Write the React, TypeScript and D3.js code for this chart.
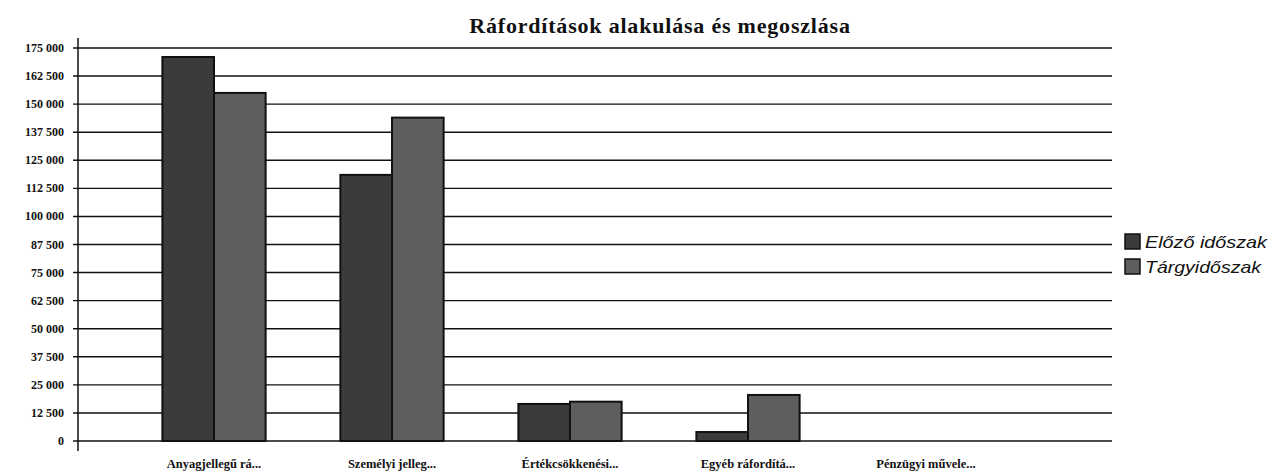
import * as d3 from "d3";
import React from "react";

const categories = [
  "Anyagjellegű rá...",
  "Személyi jelleg...",
  "Értékcsökkenési...",
  "Egyéb ráfordítá...",
  "Pénzügyi művele...",
];
const seriesNames = ["Előző időszak", "Tárgyidőszak"];
const elozo = [171000, 118500, 16500, 4000, 0];
const targy = [155000, 144000, 17500, 20500, 0];
const yTickValues = [0, 12500, 25000, 37500, 50000, 62500, 75000, 87500, 100000, 112500, 125000, 137500, 150000, 162500, 175000];

const colors = ["#3b3b3b", "#5e5e5e"];

export default function App() {
  const width = 1270;
  const height = 476;
  const plot = { left: 78, right: 1112, top: 48, bottom: 441 };

  const x = d3.scaleBand().domain(categories).range([125, 1015]).paddingInner(0.42).paddingOuter(0.21);
  const x1 = d3.scaleBand().domain(seriesNames).range([0, x.bandwidth()]);
  const y = d3.scaleLinear().domain([0, 175000]).range([plot.bottom, plot.top]);

  const fmt = (v: number) => d3.format(",")(v).replace(/,/g, " ");
  const values = [elozo, targy];

  return (
    <svg width={width} height={height} style={{ position: "absolute", left: 0, top: 0, background: "#fff" }}>
      <text
        x={660}
        y={33}
        textAnchor="middle"
        fontFamily="Liberation Serif"
        fontWeight="bold"
        fontSize="22"
        letterSpacing="0.8"
        fill="#111"
      >
        Ráfordítások alakulása és megoszlása
      </text>

      <g>
        {yTickValues.map((t) => (
          <g key={t}>
            <line x1={plot.left - 5} x2={plot.right} y1={y(t)} y2={y(t)} stroke="#111" strokeWidth="1.4" />
            <text
              x={plot.left - 14}
              y={y(t)}
              textAnchor="end"
              dominantBaseline="central"
              fontFamily="Liberation Serif"
              fontWeight="bold"
              fontSize="12"
              fill="#111"
            >
              {fmt(t)}
            </text>
          </g>
        ))}
        <line x1={plot.left} x2={plot.left} y1={plot.top - 10} y2={plot.bottom + 10} stroke="#111" strokeWidth="1.5" />
      </g>

      <g>
        {categories.map((c, i) => (
          <g key={c} transform={`translate(${x(c)},0)`}>
            {seriesNames.map((s, j) => {
              const v = values[j][i];
              if (v <= 0) return null;
              return (
                <rect
                  key={s}
                  x={x1(s)}
                  y={y(v)}
                  width={x1.bandwidth()}
                  height={y(0) - y(v)}
                  fill={colors[j]}
                  stroke="#111"
                  strokeWidth="2"
                />
              );
            })}
            <text
              x={x.bandwidth() / 2}
              y={plot.bottom + 27}
              textAnchor="middle"
              fontFamily="Liberation Serif"
              fontWeight="bold"
              fontSize="12.5"
              fill="#111"
            >
              {c}
            </text>
          </g>
        ))}
      </g>

      <g>
        {seriesNames.map((s, j) => (
          <g key={s} transform={`translate(1125,${234 + j * 25})`}>
            <rect width="15" height="15" fill={colors[j]} stroke="#111" strokeWidth="1.5" />
            <text
              x={20}
              y={8}
              dominantBaseline="central"
              fontFamily="Liberation Sans"
              fontStyle="italic"
              fontSize="17"
              textLength={j === 0 ? 122 : 116}
              lengthAdjust="spacingAndGlyphs"
              fill="#111"
            >
              {s}
            </text>
          </g>
        ))}
      </g>
    </svg>
  );
}
